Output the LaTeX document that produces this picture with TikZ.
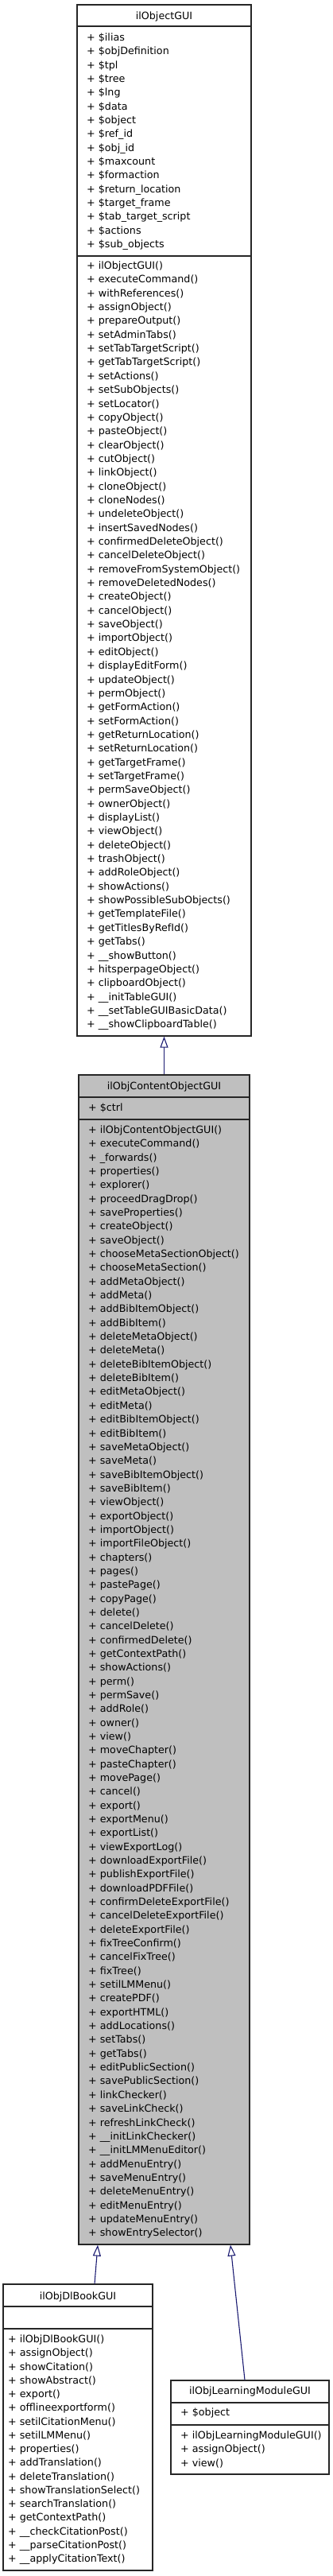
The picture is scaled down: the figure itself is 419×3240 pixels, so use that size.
\documentclass[tikz,border=0pt]{standalone}
\usepackage{fontspec}
\setmainfont{DejaVu Sans}
\usetikzlibrary{arrows.meta}
\definecolor{edgeblue}{HTML}{191970}
\definecolor{curgray}{HTML}{BFBFBF}
\begin{document}
\begin{tikzpicture}[x=1pt,y=-1pt,
  classbox/.style={draw=black!85,line width=1.2pt},
  sepline/.style={draw=black!85,line width=1.2pt},
  title/.style={anchor=base,font=\fontsize{12.7}{15}\selectfont},
  member/.style={anchor=base west,font=\fontsize{12.7}{15}\selectfont},
  inherit/.style={draw=edgeblue,line width=1.1pt,-{Triangle[open,length=14pt,width=10pt]}}]
\tikzstyle{every node}+=[inner sep=0pt]
\useasboundingbox (0,0) rectangle (419,3240);
\node[classbox,minimum width=219pt,minimum height=1297pt] (obj) at (206.5,654.5) {};
\node[title] (obj-t) at (206.5,24) {ilObjectGUI};
\draw[sepline] (97,33) -- (316,33);
\draw[sepline] (97,322) -- (316,322);
\foreach \a [count=\i from 0] in {ilias,objDefinition,tpl,tree,lng,data,object,ref\_id,obj\_id,maxcount,
  formaction,return\_location,target\_frame,tab\_target\_script,actions,sub\_objects}
  \node[member] (obj-a\i) at (109,{51.5+17.33*\i}) {+ \$\a};
\foreach \m [count=\i from 0] in {ilObjectGUI,executeCommand,withReferences,assignObject,prepareOutput,
  setAdminTabs,setTabTargetScript,getTabTargetScript,setActions,setSubObjects,setLocator,copyObject,
  pasteObject,clearObject,cutObject,linkObject,cloneObject,cloneNodes,undeleteObject,insertSavedNodes,
  confirmedDeleteObject,cancelDeleteObject,removeFromSystemObject,removeDeletedNodes,createObject,
  cancelObject,saveObject,importObject,editObject,displayEditForm,updateObject,permObject,getFormAction,
  setFormAction,getReturnLocation,setReturnLocation,getTargetFrame,setTargetFrame,permSaveObject,
  ownerObject,displayList,viewObject,deleteObject,trashObject,addRoleObject,showActions,
  showPossibleSubObjects,getTemplateFile,getTitlesByRefId,getTabs,\_\_showButton,hitsperpageObject,
  clipboardObject,\_\_initTableGUI,\_\_setTableGUIBasicData,\_\_showClipboardTable}
  \node[member] (obj-m\i) at (109,{338.5+17.35*\i}) {+ \m()};
\node[classbox,fill=curgray,minimum width=215pt,minimum height=1471pt] (cobj) at (206.5,2087.5) {};
\node[title] (cobj-t) at (206.5,1370) {ilObjContentObjectGUI};
\draw[sepline] (99,1380) -- (314,1380);
\draw[sepline] (99,1408) -- (314,1408);
\node[member] (cobj-a0) at (111,1397.5) {+ \$ctrl};
\foreach \m [count=\i from 0] in {ilObjContentObjectGUI,executeCommand,\_forwards,properties,explorer,
  proceedDragDrop,saveProperties,createObject,saveObject,chooseMetaSectionObject,chooseMetaSection,
  addMetaObject,addMeta,addBibItemObject,addBibItem,deleteMetaObject,deleteMeta,deleteBibItemObject,
  deleteBibItem,editMetaObject,editMeta,editBibItemObject,editBibItem,saveMetaObject,saveMeta,
  saveBibItemObject,saveBibItem,viewObject,exportObject,importObject,importFileObject,chapters,pages,
  pastePage,copyPage,delete,cancelDelete,confirmedDelete,getContextPath,showActions,perm,permSave,
  addRole,owner,view,moveChapter,pasteChapter,movePage,cancel,export,exportMenu,exportList,
  viewExportLog,downloadExportFile,publishExportFile,downloadPDFFile,confirmDeleteExportFile,
  cancelDeleteExportFile,deleteExportFile,fixTreeConfirm,cancelFixTree,fixTree,setilLMMenu,createPDF,
  exportHTML,addLocations,setTabs,getTabs,editPublicSection,savePublicSection,linkChecker,
  saveLinkCheck,refreshLinkCheck,\_\_initLinkChecker,\_\_initLMMenuEditor,addMenuEntry,saveMenuEntry,
  deleteMenuEntry,editMenuEntry,updateMenuEntry,showEntrySelector}
  \node[member] (cobj-m\i) at (111,{1425.5+17.34*\i}) {+ \m()};
\node[classbox,minimum width=188pt,minimum height=360pt] (dlbook) at (98,3053) {};
\node[title] (dlbook-t) at (98,2892) {ilObjDlBookGUI};
\draw[sepline] (4,2901) -- (192,2901);
\draw[sepline] (4,2929) -- (192,2929);
\foreach \m [count=\i from 0] in {ilObjDlBookGUI,assignObject,showCitation,showAbstract,export,
  offlineexportform,setilCitationMenu,setilLMMenu,properties,addTranslation,deleteTranslation,
  showTranslationSelect,searchTranslation,getContextPath,\_\_checkCitationPost,\_\_parseCitationPost,
  \_\_applyCitationText}
  \node[member] (dlbook-m\i) at (10,{2946.5+17.25*\i}) {+ \m()};
\node[classbox,minimum width=199pt,minimum height=118pt] (lmod) at (314.5,3053) {};
\node[title] (lmod-t) at (314.5,3011) {ilObjLearningModuleGUI};
\draw[sepline] (215,3022) -- (414,3022);
\draw[sepline] (215,3050) -- (414,3050);
\node[member] (lmod-a0) at (227,3038.5) {+ \$object};
\foreach \m [count=\i from 0] in {ilObjLearningModuleGUI,assignObject,view}
  \node[member] (lmod-m\i) at (227,{3067.5+17.3*\i}) {+ \m()};
\draw[inherit] (cobj.north) -- (obj.south);
\draw[inherit] ([xshift=21pt]dlbook.north) -- ([xshift=-83.5pt]cobj.south);
\draw[inherit] ([xshift=-6.5pt]lmod.north) -- ([xshift=83.5pt]cobj.south);
\end{tikzpicture}
\end{document}
